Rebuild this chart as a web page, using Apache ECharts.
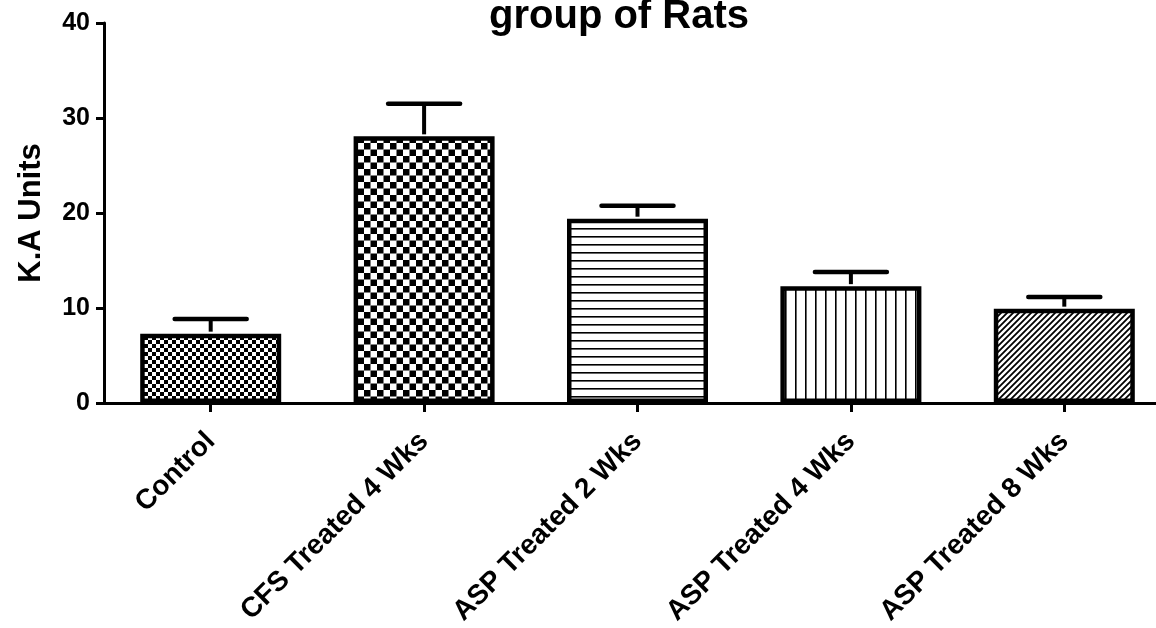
<!DOCTYPE html>
<html>
<head>
<meta charset="utf-8">
<script src="https://cdn.jsdelivr.net/npm/echarts@6/dist/echarts.min.js"></script>
<style>
html,body{margin:0;padding:0;background:#fff;}
#chart{width:1156px;height:628px;}
</style>
</head>
<body>
<div id="chart"></div>
<script>
// ---- data ----
const categories = ['Control', 'CFS Treated 4 Wks', 'ASP Treated 2 Wks', 'ASP Treated 4 Wks', 'ASP Treated 8 Wks'];
const means = [7.3, 28.07, 19.4, 12.3, 9.93];
const errorUpper = [8.84, 31.5, 20.77, 13.8, 11.16];
const yTicks = { min: 0, max: 40, interval: 10 };
const titleText = 'group of Rats';
const yName = 'K.A Units';

// ---- patterns ----
function makeCanvas(w, h) {
  const c = document.createElement('canvas');
  c.width = w; c.height = h;
  const ctx = c.getContext('2d');
  ctx.fillStyle = '#fff';
  ctx.fillRect(0, 0, w, h);
  ctx.fillStyle = '#000';
  ctx.strokeStyle = '#000';
  return [c, ctx];
}
function checker(s) {
  const [c, ctx] = makeCanvas(2 * s, 2 * s);
  ctx.fillRect(0, 0, s, s);
  ctx.fillRect(s, s, s, s);
  return { image: c, repeat: 'repeat' };
}
function hlines(p, t) {
  const [c, ctx] = makeCanvas(p, p);
  ctx.fillRect(0, Math.floor(p / 2), p, t);
  return { image: c, repeat: 'repeat' };
}
function vlines(p, t) {
  const [c, ctx] = makeCanvas(p, p);
  ctx.fillRect(Math.floor(p / 2), 0, t, p);
  return { image: c, repeat: 'repeat' };
}
function diag(p, t) {
  const [c, ctx] = makeCanvas(p, p);
  ctx.lineWidth = t;
  ctx.beginPath();
  ctx.moveTo(-1, p + 1); ctx.lineTo(p + 1, -1);
  ctx.moveTo(-1, 1); ctx.lineTo(1, -1);
  ctx.moveTo(p - 1, p + 1); ctx.lineTo(p + 1, p - 1);
  ctx.stroke();
  return { image: c, repeat: 'repeat' };
}
const patterns = [checker(4), checker(6.5), hlines(8, 1.6), vlines(10.3, 1.6), diag(6, 1.8)];

const FONT = "'Liberation Sans', Arial, Helvetica, sans-serif";

const chart = echarts.init(document.getElementById('chart'), null, { renderer: 'canvas' });

const barData = means.map((v, i) => ({
  value: v,
  itemStyle: { color: patterns[i], borderColor: '#000', borderWidth: 4.5 }
}));
const errData = means.map((v, i) => [i, v, errorUpper[i]]);

chart.setOption({
  animation: false,
  backgroundColor: '#fff',
  title: {
    text: titleText,
    left: 614,
    textAlign: 'center',
    top: -10,
    textStyle: { fontFamily: FONT, fontWeight: 'bold', fontSize: 40, color: '#000', lineHeight: 44 }
  },
  grid: { left: 104, top: 23, width: 1067, height: 380, containLabel: false, outerBoundsMode: 'none' },
  xAxis: {
    type: 'category',
    data: categories,
    boundaryGap: true,
    axisLine: { show: true, lineStyle: { color: '#000', width: 3 } },
    axisTick: { show: true, alignWithLabel: true, length: 9, lineStyle: { color: '#000', width: 3 } },
    axisLabel: {
      rotate: 45, interval: 0, margin: 34,
      fontFamily: FONT, fontWeight: 'bold', fontSize: 28, color: '#000'
    },
    splitLine: { show: false }
  },
  yAxis: {
    type: 'value',
    min: yTicks.min, max: yTicks.max, interval: yTicks.interval,
    name: yName,
    nameLocation: 'middle',
    nameGap: 57,
    nameTextStyle: { fontFamily: FONT, fontWeight: 'bold', fontSize: 31, color: '#000' },
    axisLine: { show: true, lineStyle: { color: '#000', width: 3 } },
    axisTick: { show: true, length: 8, lineStyle: { color: '#000', width: 3 } },
    axisLabel: { margin: 14, fontFamily: FONT, fontWeight: 'bold', fontSize: 25, color: '#000' },
    splitLine: { show: false }
  },
  series: [
    {
      type: 'bar',
      data: barData,
      barWidth: 141,
      z: 2
    },
    {
      type: 'custom',
      data: errData,
      z: 3,
      renderItem: function (params, api) {
        const i = api.value(0);
        const base = api.coord([i, api.value(1)]);
        const top = api.coord([i, api.value(2)]);
        const half = 36;
        return {
          type: 'group',
          children: [
            { type: 'line', shape: { x1: base[0], y1: base[1] - 2, x2: top[0], y2: top[1] },
              style: { stroke: '#000', lineWidth: 4 } },
            { type: 'line', shape: { x1: top[0] - half, y1: top[1], x2: top[0] + half, y2: top[1] },
              style: { stroke: '#000', lineWidth: 4.5, lineCap: 'round' } }
          ]
        };
      }
    }
  ]
});
</script>
</body>
</html>
